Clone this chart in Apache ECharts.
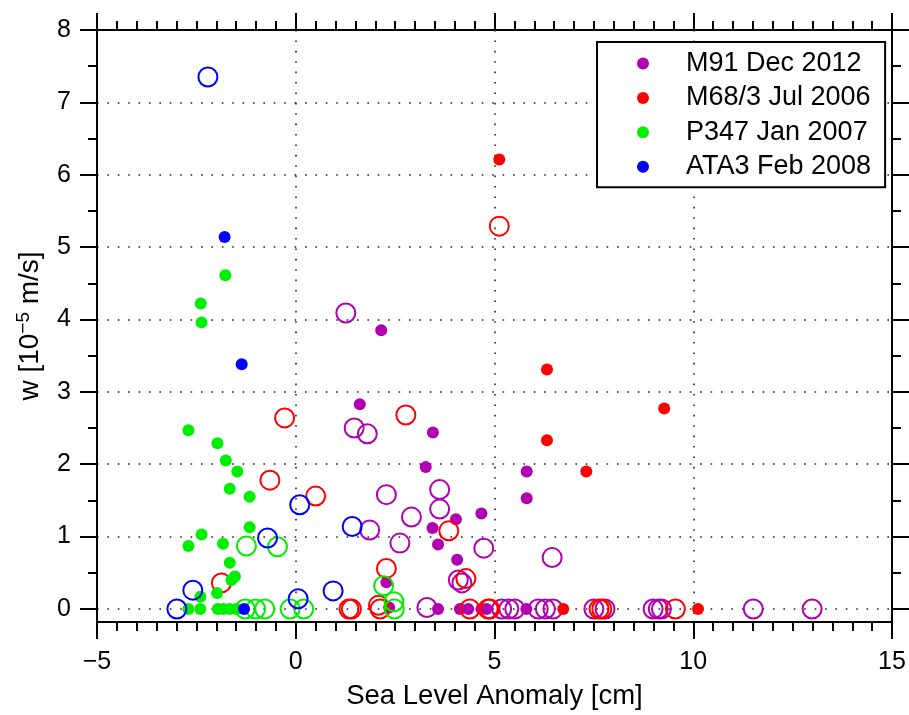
<!DOCTYPE html>
<html><head><meta charset="utf-8">
<script src="https://cdn.jsdelivr.net/npm/echarts@6/dist/echarts.min.js"></script>
<style>html,body{margin:0;padding:0;background:#fff}#c{width:909px;height:715px}</style>
</head><body><div id="c"></div>
<script>
// ---------------- data ----------------
const seriesNames = ['M91 Dec 2012', 'M68/3 Jul 2006', 'P347 Jan 2007', 'ATA3 Feb 2008'];
const seriesColors = ['#B000B0', '#FF0000', '#00EE00', '#0000FF'];

const m91Filled = [[2.15,3.85],[1.61,2.83],[3.45,2.44],[3.27,1.96],[5.81,1.90],[5.81,1.53],[4.67,1.32],[4.03,1.24],[3.44,1.12],[3.58,0.89],[4.06,0.68],[2.28,0.37],[2.35,0.02],[3.58,0],[4.13,0],[4.34,0],[4.67,0],[4.80,0],[5.80,0]];
const m91Open = [[1.26,4.09],[1.47,2.50],[1.80,2.42],[2.28,1.58],[3.62,1.65],[3.62,1.38],[2.91,1.27],[1.86,1.09],[2.62,0.91],[4.73,0.84],[6.45,0.71],[4.09,0.40],[4.18,0.36],[3.30,0.02],[5.18,0],[5.36,0],[5.51,0],[6.10,0],[6.28,0],[6.47,0],[7.50,0],[7.78,0],[8.99,0],[9.12,0],[9.20,0],[11.51,0],[12.99,0]];
const m68Filled = [[5.12,6.21],[6.32,3.31],[6.32,2.33],[9.27,2.77],[7.31,1.90],[6.73,0],[10.12,0]];
const m68Open = [[5.12,5.29],[2.77,2.68],[-0.28,2.64],[-0.65,1.78],[0.50,1.56],[3.85,1.08],[2.28,0.56],[4.28,0.42],[-1.87,0.36],[1.34,0],[1.40,0],[2.08,0.05],[2.12,0],[4.38,0],[4.84,0],[4.88,0],[7.63,0],[7.70,0],[9.55,0]];
const p347Filled = [[-1.77,4.61],[-2.39,4.22],[-2.37,3.96],[-2.70,2.47],[-1.97,2.29],[-1.76,2.05],[-1.47,1.90],[-1.66,1.66],[-1.16,1.55],[-1.16,1.13],[-2.37,1.03],[-2.70,0.87],[-1.83,0.90],[-1.66,0.64],[-1.53,0.45],[-1.62,0.40],[-1.98,0.22],[-2.40,0.17],[-2.70,0],[-2.40,0],[-1.96,0],[-1.82,0],[-1.66,0],[-1.50,0]];
const p347Open = [[-1.24,0.87],[-0.46,0.86],[2.21,0.32],[2.47,0.10],[-1.27,0],[-1.01,0],[-0.78,0],[-0.14,0],[0.20,0],[2.48,0]];
const ata3Filled = [[-1.79,5.14],[-1.36,3.38],[-1.30,0]];
const ata3Open = [[-2.21,7.35],[0.10,1.44],[1.42,1.14],[-0.71,0.98],[-2.59,0.26],[0.94,0.25],[0.06,0.14],[-2.99,0]];

const xMin = -5, xMax = 15, xStep = 5;
const yMin = -0.18, yMax = 8;
const yMajorTicks = [0,1,2,3,4,5,6,7,8];
const yMinorTicks = [0.5,1.5,2.5,3.5,4.5,5.5,6.5,7.5];
const xTitle = 'Sea Level Anomaly [cm]';
const yTitle = 'w [10{sup|\u22125} m/s]';

// ---------------- chart ----------------
const FONT = '"Liberation Sans", Arial, Helvetica, sans-serif';
const black = '#000';
const dotted = {color: '#222', width: 1.6, type: [1.6, 8.8]};
const tickStyle = {color: black, width: 2};

function xAxisDef(pos, main) {
  return {
    type: 'value', position: pos, min: xMin, max: xMax, interval: xStep,
    axisLine: {show: true, onZero: false, lineStyle: {color: black, width: 2}},
    axisTick: {show: true, inside: false, length: 17, lineStyle: tickStyle},
    minorTick: {show: true, splitNumber: 10, length: 9, lineStyle: tickStyle},
    axisLabel: {show: main, margin: 28, fontSize: 25, color: black, fontFamily: FONT,
      formatter: v => String(v).replace('-', '\u2212')},
    splitLine: {show: main, lineStyle: dotted},
    minorSplitLine: {show: false},
    name: main ? xTitle : '', nameLocation: 'middle', nameGap: 60,
    nameTextStyle: {fontSize: 27.5, color: black, fontFamily: FONT}
  };
}
function yAxisDef(pos, ticks, len, main) {
  const left = pos === 'left';
  return {
    type: 'value', position: pos, min: yMin, max: yMax, splitNumber: 8,
    axisLine: {show: true, onZero: false, lineStyle: {color: black, width: 2}},
    axisTick: {show: true, inside: false, length: len, customValues: ticks, lineStyle: tickStyle},
    axisLabel: {show: main && left, customValues: ticks, margin: 26, fontSize: 25, color: black, fontFamily: FONT},
    splitLine: {show: main && left, lineStyle: dotted},
    name: (main && left) ? yTitle : '', nameLocation: 'middle', nameGap: 48,
    nameTextStyle: {fontSize: 28, color: black, fontFamily: FONT, lineHeight: 32,
      rich: {sup: {fontSize: 19, verticalAlign: 'top', lineHeight: 32, fontFamily: FONT, color: black}}}
  };
}
function sc(name, data, color, filled, z) {
  return {
    type: 'scatter', name: name, data: data, symbol: 'circle',
    symbolSize: filled ? 12 : 19,
    itemStyle: filled ? {color: color, opacity: 1}
                      : {color: 'rgba(255,255,255,0)', borderColor: color, borderWidth: 2, opacity: 1},
    emphasis: {disabled: true}, silent: true, z: z,
    xAxisIndex: 0, yAxisIndex: 0
  };
}

const series = [];
const filledSets = [m91Filled, m68Filled, p347Filled, ata3Filled];
const openSets = [m91Open, m68Open, p347Open, ata3Open];
for (let i = 0; i < 4; i++) {
  series.push(sc(seriesNames[i] + ' open', openSets[i], seriesColors[i], false, 2 + i));
  series.push(sc(seriesNames[i], filledSets[i], seriesColors[i], true, 2 + i));
}

const option = {
  animation: false,
  backgroundColor: '#fff',
  grid: {left: 97, top: 30, width: 795, height: 595, containLabel: false},
  xAxis: [xAxisDef('bottom', true), xAxisDef('top', false)],
  yAxis: [
    yAxisDef('left', yMajorTicks, 17, true),
    yAxisDef('left', yMinorTicks, 9, false),
    yAxisDef('right', yMajorTicks, 17, false),
    yAxisDef('right', yMinorTicks, 9, false)
  ],
  legend: {
    data: seriesNames, orient: 'vertical', left: 597, top: 42,
    padding: [8, 14, 7, 40], itemGap: 7.4, itemWidth: 76, itemHeight: 12, icon: 'circle',
    borderColor: black, borderWidth: 2, backgroundColor: '#fff', selectedMode: false,
    textStyle: {fontSize: 27, fontFamily: FONT, color: black, lineHeight: 26}
  },
  series: series
};
const chart = echarts.init(document.getElementById('c'), null, {renderer: 'canvas'});
chart.setOption(option);
</script></body></html>
